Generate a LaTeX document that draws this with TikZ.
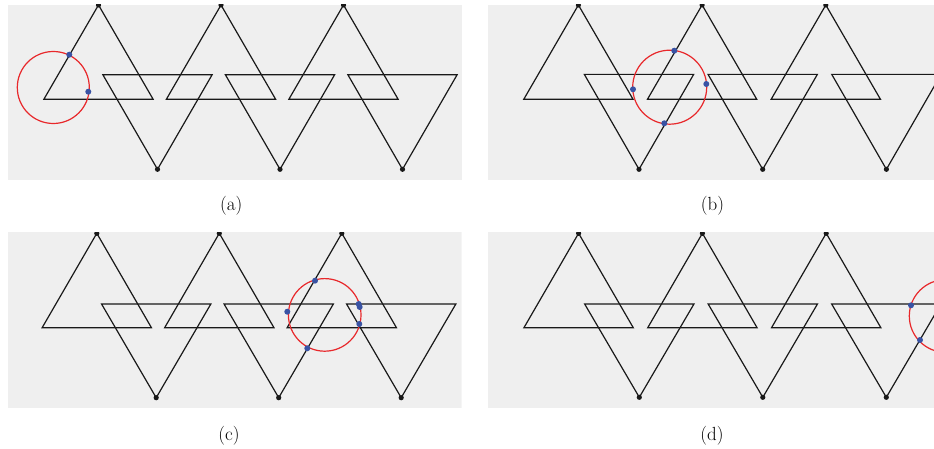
\documentclass[tikz,border=0pt]{standalone}
\begin{document}
\begin{tikzpicture}[x=1pt,y=-1pt,
  tri/.style={draw=black!90,line width=1.2pt},
  ring/.style={draw=ringred,line width=1.2pt},
  bdot/.style={fill=dotblue},
  kdot/.style={fill=black!90},
  panelbg/.style={fill=bggray},
  lab/.style={font=\fontsize{19}{21}\selectfont,inner sep=0pt}]
\definecolor{bggray}{HTML}{EFEFEF}
\definecolor{ringred}{HTML}{E8282B}
\definecolor{dotblue}{HTML}{3953A4}
\useasboundingbox (0,0) rectangle (934,449);
% (a)
\begin{scope}
\clip (8,5) rectangle (462,180);
\fill[panelbg] (8,5) rectangle (462,180);
\foreach \x in {98.5,221,343.5}{
  \draw[tri] (\x,5) -- (\x-54.65,99.3) -- (\x+54.65,99.3) -- cycle;
  \fill[kdot] (\x,5) circle[radius=2.6pt];}
\foreach \x in {157.5,280,402.5}{
  \draw[tri] (\x,169.3) -- (\x-54.65,74.7) -- (\x+54.65,74.7) -- cycle;
  \fill[kdot] (\x,169.3) circle[radius=2.6pt];}
\draw[ring] (53.3,87.5) circle[radius=36pt];
\fill[bdot] (69.3,54.7) circle[radius=3pt] (88.3,91.7) circle[radius=3pt];
\end{scope}
% (b)
\begin{scope}
\clip (488,5) rectangle (934,180);
\fill[panelbg] (488,5) rectangle (934,180);
\foreach \x in {578.4,702.1,825.8}{
  \draw[tri] (\x,5) -- (\x-54.65,99.3) -- (\x+54.65,99.3) -- cycle;
  \fill[kdot] (\x,5) circle[radius=2.6pt];}
\foreach \x in {639,762.7,886.4}{
  \draw[tri] (\x,169.3) -- (\x-54.65,74.4) -- (\x+54.65,74.4) -- cycle;
  \fill[kdot] (\x,169.3) circle[radius=2.6pt];}
\draw[ring] (669.7,87.2) circle[radius=37pt];
\fill[bdot] (674.3,50.7) circle[radius=3pt] (633,89.3) circle[radius=3pt]
  (706.3,84) circle[radius=3pt] (664.3,123.3) circle[radius=3pt];
\end{scope}
% (c)
\begin{scope}
\clip (8,232.3) rectangle (461.7,408.3);
\fill[panelbg] (8,232.3) rectangle (461.7,408.3);
\foreach \x in {96.8,219.3,341.8}{
  \draw[tri] (\x,233.3) -- (\x-54.65,327.7) -- (\x+54.65,327.7) -- cycle;
  \fill[kdot] (\x,233.3) circle[radius=2.6pt];}
\foreach \x in {156.2,278.7,401.2}{
  \draw[tri] (\x,397.7) -- (\x-54.65,304) -- (\x+54.65,304) -- cycle;
  \fill[kdot] (\x,397.7) circle[radius=2.6pt];}
\draw[ring] (324.7,314.9) circle[radius=36.3pt];
\fill[bdot] (315,280.7) circle[radius=3pt] (287.3,311.7) circle[radius=3pt]
  (358.7,304) circle[radius=3pt] (359.7,307) circle[radius=3pt]
  (359.3,324) circle[radius=3pt] (307.3,348.3) circle[radius=3pt];
\end{scope}
% (d)
\begin{scope}
\clip (488,232.3) rectangle (934,408.3);
\fill[panelbg] (488,232.3) rectangle (934,408.3);
\foreach \x in {578.6,702.4,826.2}{
  \draw[tri] (\x,233.3) -- (\x-54.65,327.7) -- (\x+54.65,327.7) -- cycle;
  \fill[kdot] (\x,233.3) circle[radius=2.6pt];}
\foreach \x in {639.3,762.8,886.3}{
  \draw[tri] (\x,397.3) -- (\x-54.65,304) -- (\x+54.65,304) -- cycle;
  \fill[kdot] (\x,397.3) circle[radius=2.6pt];}
\draw[ring] (945.6,316) circle[radius=36.3pt];
\fill[bdot] (911,305.3) circle[radius=3pt] (920,340) circle[radius=3pt];
\end{scope}
% labels
\node[lab] (la) at (231.3,206) {(a)};
\node[lab] (lb) at (712.5,206) {(b)};
\node[lab] (lc) at (229,436) {(c)};
\node[lab] (ld) at (712,436) {(d)};
\end{tikzpicture}
\end{document}
